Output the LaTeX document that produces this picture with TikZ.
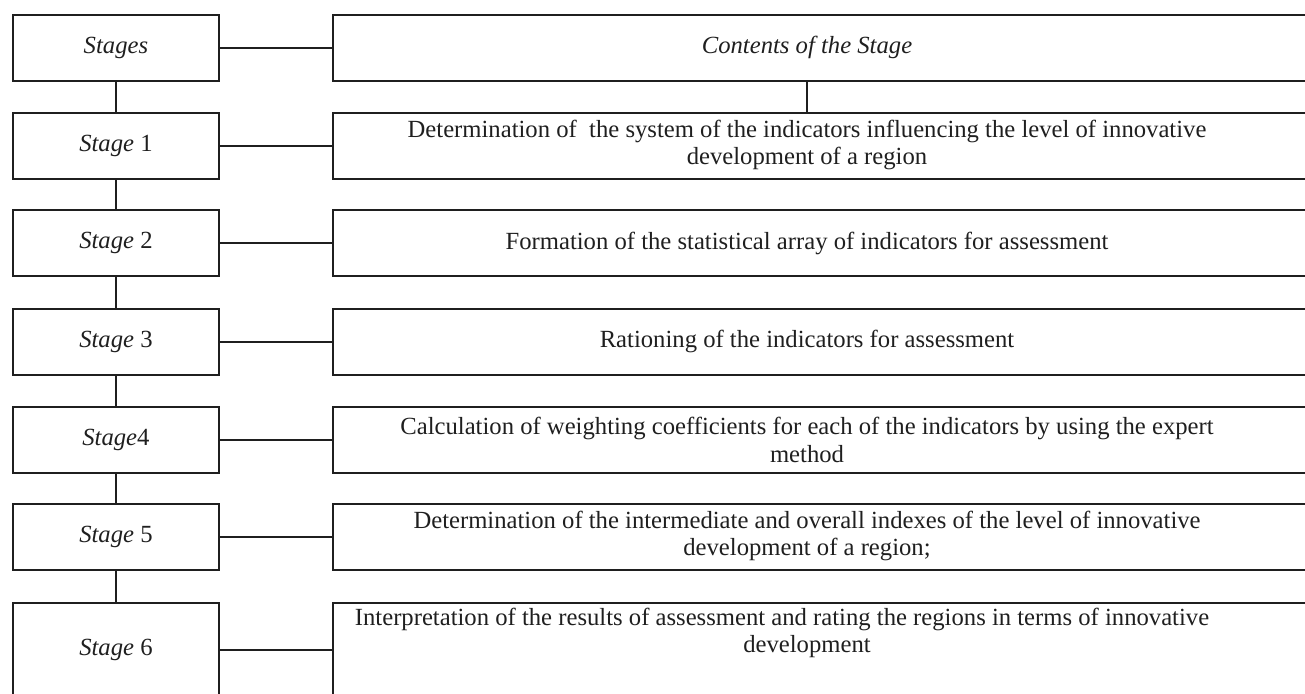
\documentclass[tikz,border=0pt]{standalone}
\usepackage{fontspec}
\setmainfont{Liberation Serif}
\begin{document}
\begin{tikzpicture}[x=0.75pt,y=-0.75pt,
  ln/.style={draw=black!88, line width=1.4pt},
  lbox/.style={ln, anchor=north west, inner sep=0pt, minimum width=154.5pt, minimum height=49.5pt, font=\fontsize{18.5}{20.5}\selectfont, text=black!88},
  rbox/.style={ln, anchor=north west, inner sep=0pt, minimum width=742.5pt, minimum height=49.5pt},
  txt/.style={align=center, inner sep=0pt, font=\fontsize{18.5}{20.5}\selectfont, text=black!88},
  conn/.style={ln, line width=1.3pt}]
\useasboundingbox (0,0) rectangle (1305,693);
\clip (0,0) rectangle (1305,693);
% left column
\node[lbox] (s0) at (12,14) {\textit{Stages}};
\node[lbox] (s1) at (12,112) {\textit{Stage} 1};
\node[lbox] (s2) at (12,209) {\textit{Stage} 2};
\node[lbox] (s3) at (12,308) {\textit{Stage} 3};
\node[lbox] (s4) at (12,406) {\textit{Stage}4};
\node[lbox] (s5) at (12,503) {\textit{Stage} 5};
\node[lbox, minimum height=70.5pt] (s6) at (12,602) {\textit{Stage} 6};
% right column boxes
\node[rbox] (r0) at (332,14) {};
\node[rbox] (r1) at (332,112) {};
\node[rbox] (r2) at (332,209) {};
\node[rbox] (r3) at (332,308) {};
\node[rbox] (r4) at (332,406) {};
\node[rbox] (r5) at (332,503) {};
\node[rbox, minimum height=70.5pt] (r6) at (332,602) {};
% texts
\node[txt] (t0) at (807,47) {\textit{Contents of the Stage}};
\node[txt] (t1) at (807,145) {Determination of~ the system of the indicators influencing the level of innovative\\development of a region};
\node[txt] (t2) at (807,243) {Formation of the statistical array of indicators for assessment};
\node[txt] (t3) at (807,341) {Rationing of the indicators for assessment};
\node[txt] (t4) at (807,440) {Calculation of weighting coefficients for each of the indicators by using the expert\\method};
\node[txt] (t5) at (807,536) {Determination of the intermediate and overall indexes of the level of innovative\\development of a region;};
\node[txt] (t6) at (807,633) {Interpretation of the results of assessment and rating the regions in terms of innovative\hspace*{37.5pt}\\development};
% connectors
\foreach \a/\b in {s0/s1,s1/s2,s2/s3,s3/s4,s4/s5,s5/s6}
  \draw[conn] (\a.south) -- (\b.north);
\foreach \i in {0,...,6}
  \draw[conn] (s\i.east |- s\i.center) -- (r\i.west |- s\i.center);
\draw[conn] (t0 |- r0.south) -- (t0 |- r1.north);
\end{tikzpicture}
\end{document}
